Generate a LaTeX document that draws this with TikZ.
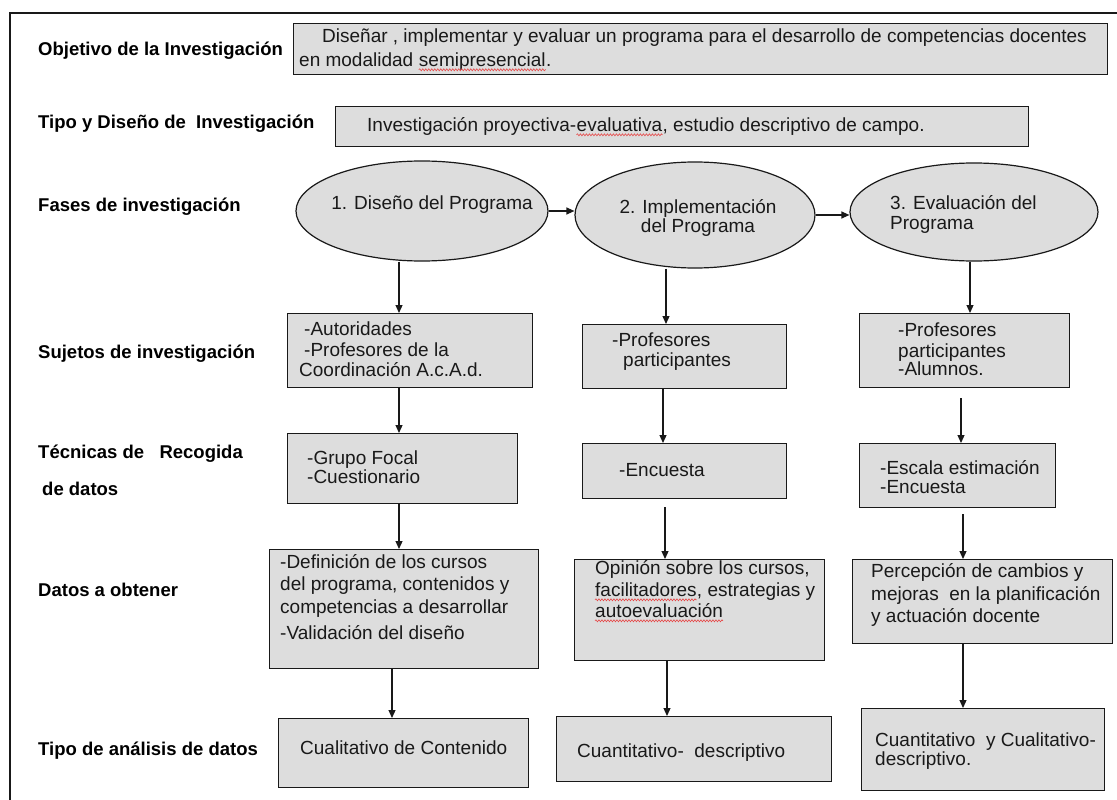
\documentclass[tikz,border=0pt]{standalone}
\usepackage{fontspec}
\setmainfont{Liberation Sans}
\usetikzlibrary{shapes.geometric,arrows.meta,decorations.pathmorphing}
\definecolor{boxgray}{RGB}{221,221,221}
\definecolor{ink}{RGB}{25,25,25}
\definecolor{squig}{RGB}{230,70,70}
\begin{document}
\begin{tikzpicture}[x=1pt,y=-1pt,
  box/.style={draw=ink, line width=1.2pt, fill=boxgray, anchor=north west, inner sep=0pt},
  oval/.style={ellipse, draw=ink, line width=1.2pt, fill=boxgray, inner sep=0pt},
  txt/.style={font=\fontsize{19}{22}\selectfont, text=ink, anchor=west, inner sep=0pt, text height=13.6pt, text depth=0pt},
  ctxt/.style={txt, anchor=center},
  cont/.style={txt, anchor=base west},
  lbl/.style={font=\fontsize{18.5}{22}\selectfont\bfseries, text=black, anchor=west, inner sep=0pt, text height=13.2pt, text depth=0pt},
  arr/.style={draw=ink, line width=1.2pt, -{Triangle[length=8pt,width=7pt]}},
  wave/.style={draw=squig, line width=0.6pt, decorate, decoration={snake, amplitude=1pt, segment length=3pt}},
]
\useasboundingbox (0,0) rectangle (1117,800);
\fill[white] (0,0) rectangle (1117,800);
\draw[ink, line width=1.2pt] (10,800) -- (10,13) -- (1117,13);

% row labels
\node[lbl] (l1) at (38,49) {Objetivo de la Investigación};
\node[lbl] (l2) at (38,122) {Tipo y Diseño de \ Investigación};
\node[lbl] (l3) at (38,205) {Fases de investigación};
\node[lbl] (l4) at (38,352) {Sujetos de investigación};
\node[lbl] (l5) at (38,452) {Técnicas de \ \ Recogida};
\node[lbl] (l5b) at (42,489) {de datos};
\node[lbl] (l6) at (38,590) {Datos a obtener};
\node[lbl] (l7) at (38,749) {Tipo de análisis de datos};

% objective and type boxes
\node[box, minimum width=814pt, minimum height=51pt] (obj) at (293,23) {};
\node[txt] (objt1) at (322,36) {Diseñar , implementar y evaluar un programa para el desarrollo de competencias docentes};
\node[txt] (objt2) at (299,60) {en modalidad};
\node[cont] (objw) at ([xshift=5.3pt]objt2.base east) {semipresencial};
\node[cont] (objt3) at (objw.base east) {.};
\node[box, minimum width=693pt, minimum height=40pt] (tipo) at (335,106) {};
\node[txt] (tipot) at (367,125) {Investigación proyectiva-};
\node[cont] (tipow) at (tipot.base east) {evaluativa};
\node[cont] (tipot2) at (tipow.base east) {, estudio descriptivo de campo.};

% phases
\node[oval, minimum width=252pt, minimum height=100pt] (e1) at (422,211) {};
\node[ctxt] (e1t) at (432,203) {1. Diseño del Programa};
\node[oval, minimum width=240pt, minimum height=106pt] (e2) at (695,215) {};
\node[ctxt] (e2t1) at (698,207) {2. Implementación};
\node[ctxt] (e2t2) at (698,226) {del Programa};
\node[oval, minimum width=248pt, minimum height=98pt] (e3) at (974,212) {};
\node[txt] (e3t1) at (890,203) {3. Evaluación del};
\node[txt] (e3t2) at (890,223) {Programa};

% subjects
\node[box, minimum width=245pt, minimum height=74pt] (s1) at (287,313) {};
\node[txt] (s1a) at (304,329) {-Autoridades};
\node[txt] (s1b) at (304,350) {-Profesores de la};
\node[txt] (s1c) at (299,370) {Coordinación A.c.A.d.};
\node[box, minimum width=204pt, minimum height=64pt] (s2) at (582,324) {};
\node[txt] (s2a) at (612,340) {-Profesores};
\node[txt] (s2b) at (623,360) {participantes};
\node[box, minimum width=210pt, minimum height=74pt] (s3) at (859,313) {};
\node[txt] (s3a) at (898,330) {-Profesores};
\node[txt] (s3b) at (898,351) {participantes};
\node[txt] (s3c) at (898,369) {-Alumnos.};

% techniques
\node[box, minimum width=230pt, minimum height=70pt] (t1) at (287,433) {};
\node[txt] (t1a) at (307,458) {-Grupo Focal};
\node[txt] (t1b) at (307,477) {-Cuestionario};
\node[box, minimum width=204pt, minimum height=55pt] (t2) at (582,443) {};
\node[txt] (t2a) at (619,470) {-Encuesta};
\node[box, minimum width=196pt, minimum height=64pt] (t3) at (859,443) {};
\node[txt] (t3a) at (880,468) {-Escala estimación};
\node[txt] (t3b) at (880,487) {-Encuesta};

% data
\node[box, minimum width=269pt, minimum height=119pt] (d1) at (269,549) {};
\node[txt] (d1a) at (280,562) {-Definición de los cursos};
\node[txt] (d1b) at (280,584) {del programa, contenidos y};
\node[txt] (d1c) at (280,607) {competencias a desarrollar};
\node[txt] (d1d) at (280,633) {-Validación del diseño};
\node[box, minimum width=250pt, minimum height=101pt] (d2) at (574,559) {};
\node[txt] (d2a) at (595,568) {Opinión sobre los cursos,};
\node[txt] (d2w1) at (595,590) {facilitadores};
\node[cont] (d2b) at (d2w1.base east) {, estrategias y};
\node[txt] (d2w2) at (595,611) {autoevaluación};
\node[box, minimum width=260pt, minimum height=84pt] (d3) at (852,559) {};
\node[txt] (d3a) at (871,571) {Percepción de cambios y};
\node[txt] (d3b) at (871,594) {mejoras \ en la planificación};
\node[txt] (d3c) at (871,616) {y actuación docente};

% analysis
\node[box, minimum width=250pt, minimum height=69pt] (a1) at (278,718) {};
\node[txt] (a1a) at (300,748) {Cualitativo de Contenido};
\node[box, minimum width=275pt, minimum height=65pt] (a2) at (556,716) {};
\node[txt] (a2a) at (577,751) {Cuantitativo- \ descriptivo};
\node[box, minimum width=243pt, minimum height=82pt] (a3) at (861,708) {};
\node[txt] (a3a) at (875,740) {Cuantitativo \ y Cualitativo-};
\node[txt] (a3b) at (875,759) {descriptivo.};

% spell-check squiggles
\foreach \w in {objw,tipow,d2w1,d2w2}
  \draw[wave] ([yshift=-3pt]\w.base west) -- ([yshift=-3pt]\w.base east);

% connectors
\draw[arr] (e1.east) -- (e1.east -| e2.west);
\draw[arr] (e2.east) -- (e2.east -| e3.west);

\coordinate (c1) at (399,0);
\coordinate (c1b) at (392,0);
\draw[arr] (e1.south -| c1) -- (s1.north -| c1);
\draw[arr] (s1.south -| c1) -- (t1.north -| c1);
\draw[arr] (t1.south -| c1) -- (d1.north -| c1);
\draw[arr] (d1.south -| c1b) -- (a1.north -| c1b);

\coordinate (c2a) at (666,0);
\coordinate (c2b) at (663,0);
\coordinate (c2c) at (665,0);
\coordinate (c2d) at (667,0);
\draw[arr] (e2.south -| c2a) -- (s2.north -| c2a);
\draw[arr] (s2.south -| c2b) -- (t2.north -| c2b);
\draw[arr, shorten <=8pt] (t2.south -| c2c) -- (d2.north -| c2c);
\draw[arr] (d2.south -| c2d) -- (a2.north -| c2d);

\coordinate (c3a) at (970,0);
\coordinate (c3b) at (961,0);
\coordinate (c3c) at (963,0);
\draw[arr] (e3.south -| c3a) -- (s3.north -| c3a);
\draw[arr, shorten <=10pt] (s3.south -| c3b) -- (t3.north -| c3b);
\draw[arr, shorten <=6pt] (t3.south -| c3c) -- (d3.north -| c3c);
\draw[arr] (d3.south -| c3c) -- (a3.north -| c3c);
\end{tikzpicture}
\end{document}
